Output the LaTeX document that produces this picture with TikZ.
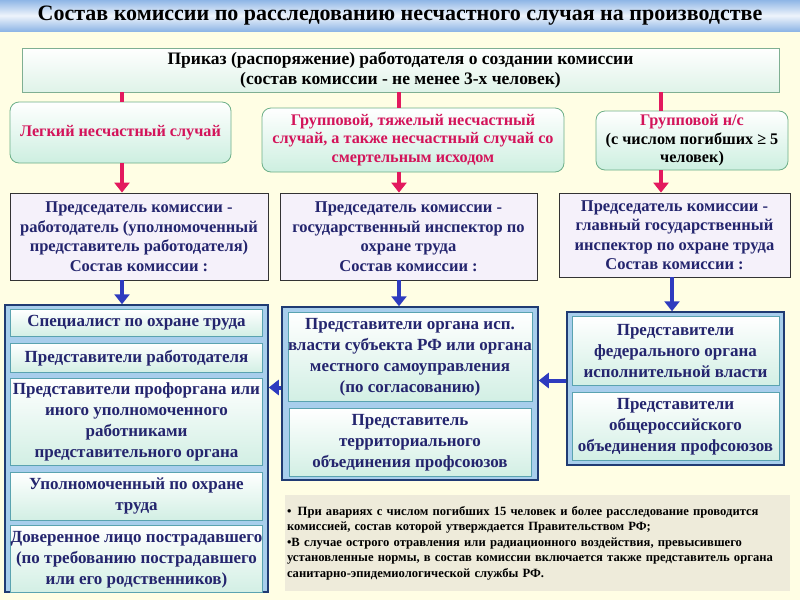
\documentclass[tikz,border=0pt]{standalone}
\usepackage{fontspec}
\setmainfont{Liberation Serif}
\usepackage{tikz}
\usetikzlibrary{arrows.meta, positioning}
\usepackage{xcolor}

\definecolor{cream}{HTML}{FFFEE4}
\definecolor{bandblue}{HTML}{8FB6E6}
\definecolor{ordermint}{HTML}{DFF3E8}
\definecolor{ordergreen}{HTML}{7FAF92}
\definecolor{casemint}{HTML}{CDEFE0}
\definecolor{casegreen}{HTML}{6DAF88}
\definecolor{crimson}{HTML}{D3145A}
\definecolor{navy}{HTML}{24256E}
\definecolor{chairfill}{HTML}{F5F1FA}
\definecolor{panelblue}{HTML}{A8CEEC}
\definecolor{paneledge}{HTML}{203B73}
\definecolor{memberedge}{HTML}{5AA3B0}
\definecolor{membermint}{HTML}{D2EFE4}
\definecolor{pinkred}{HTML}{E3195E}
\definecolor{arrowblue}{HTML}{2E3BBF}
\definecolor{notegray}{HTML}{EEEBDA}

\begin{document}
\begin{tikzpicture}[x=1pt, y=-1pt,
        titlebar/.style={rectangle, top color=bandblue, bottom color=bandblue, middle color=white!85!bandblue, minimum width=800pt, minimum height=31pt, inner sep=0pt, font=\fontsize{22}{24}\selectfont\bfseries},
        order/.style={rectangle, draw=ordergreen, thick, top color=white, bottom color=ordermint, minimum width=757pt, minimum height=44pt, inner sep=0pt, align=center, font=\fontsize{17.5}{20}\selectfont\bfseries},
        case/.style={rectangle, draw=casegreen, thick, rounded corners=9pt, top color=white, bottom color=casemint, inner sep=0pt, align=center, text=crimson, font=\fontsize{16.2}{18.5}\selectfont\bfseries},
        chair/.style={rectangle, draw=black!80, thick, fill=chairfill, inner sep=0pt, align=center, text=navy, font=\fontsize{16.5}{19.5}\selectfont\bfseries},
        panel/.style={rectangle, draw=paneledge, line width=1.5pt, fill=panelblue, inner sep=0pt},
        member/.style={rectangle, draw=memberedge, thick, top color=white, bottom color=membermint, inner sep=0pt, align=center, text=navy, font=\fontsize{17}{21}\selectfont\bfseries},
        note/.style={rectangle, fill=notegray, inner xsep=2pt, inner ysep=0pt, text width=501pt, minimum height=96pt, align=left, font=\fontsize{12.6}{15.5}\selectfont\bfseries},
        bar/.style={draw=pinkred, line width=4pt},
        pinkline/.style={draw=pinkred, line width=4pt, -{Triangle[length=10pt, width=15pt]}},
        blueline/.style={draw=arrowblue, line width=4pt, -{Triangle[length=10pt, width=15pt]}}
    ]
        \fill [cream] (0,0) rectangle (800,600);
        \useasboundingbox (0,0) rectangle (800,600);

        \node [titlebar] (title) at (400,15.5) {Состав комиссии по расследованию несчастного случая на производстве};
        \node [order] (order) at (400.5,70) {Приказ (распоряжение) работодателя о создании комиссии\\(состав комиссии - не менее 3-х человек)};

        % three kinds of accident
        \node [case, minimum width=221pt, minimum height=61pt] (caseA) at (120.5,132.5) {Легкий несчастный случай};
        \node [case, minimum width=302pt, minimum height=64pt] (caseB) at (413,140) {Групповой, тяжелый несчастный\\случай, а также несчастный случай со\\смертельным исходом};
        \node [case, minimum width=192pt, minimum height=59pt] (caseC) at (692,140.5) {Групповой н/с\\{\color{black}(с числом погибших ≥ 5}\\{\color{black}человек)}};

        % chairmen
        \node [chair, minimum width=258pt, minimum height=87pt] (chairA) at (139,236.5) {Председатель комиссии -\\работодатель (уполномоченный\\представитель работодателя)\\Состав комиссии :};
        \node [chair, minimum width=257pt, minimum height=87pt] (chairB) at (408.5,236.5) {Председатель комиссии -\\государственный инспектор по\\охране труда\\Состав комиссии :};
        \node [chair, minimum width=231pt, minimum height=84pt] (chairC) at (674.5,235) {Председатель комиссии -\\главный государственный\\инспектор по охране труда\\Состав комиссии :};

        % members
        \node [panel, minimum width=263pt, minimum height=287pt] (panelA) at (136.5,448.5) {};
        \node [member, minimum width=252pt, minimum height=27pt, below=5pt of panelA.north] (spec) {Специалист по охране труда};
        \node [member, minimum width=252pt, minimum height=29pt, below=6pt of spec] (empl) {Представители работодателя};
        \node [member, minimum width=252pt, minimum height=87pt, below=5pt of empl] (union) {Представители профоргана или\\иного уполномоченного\\работниками\\представительного органа};
        \node [member, minimum width=252pt, minimum height=48pt, below=6pt of union] (safety) {Уполномоченный по охране\\труда};
        \node [member, minimum width=252pt, minimum height=67pt, below=5pt of safety] (proxy) {Доверенное лицо пострадавшего\\(по требованию пострадавшего\\или его родственников)};

        \node [panel, minimum width=256pt, minimum height=173pt] (panelB) at (410,393.5) {};
        \node [member, minimum width=244pt, minimum height=89pt, below=6pt of panelB.north] (region) {Представители органа исп.\\власти субъекта РФ или органа\\местного самоуправления\\(по согласованию)};
        \node [member, minimum width=242pt, minimum height=68pt, below=6pt of region] (terr) {Представитель\\территориального\\объединения профсоюзов};

        \node [panel, minimum width=217pt, minimum height=153pt] (panelC) at (675.5,388.5) {};
        \node [member, minimum width=207pt, minimum height=69pt, below=5pt of panelC.north] (fed) {Представители\\федерального органа\\исполнительной власти};
        \node [member, minimum width=207pt, minimum height=68pt, below=6pt of fed] (allrus) {Представители\\общероссийского\\объединения профсоюзов};

        \node [note] (note) at (537.5,543) {•\, При авариях с числом погибших 15 человек и более расследование проводится\\комиссией, состав которой утверждается Правительством РФ;\\•В случае острого отравления или радиационного воздействия, превысившего\\установленные нормы, в состав комиссии включается также представитель органа\\санитарно-эпидемиологической службы РФ.};

        % column lines
        \coordinate (colA) at (122,0);
        \coordinate (colB) at (399,0);
        \coordinate (colC) at (661,0);
        \coordinate (colD) at (672,0);

        \path [bar] (order.south -| colA) -- (caseA.north -| colA);
        \path [bar] (order.south -| colB) -- (caseB.north -| colB);
        \path [bar] (order.south -| colC) -- (caseC.north -| colC);

        \path [pinkline] (caseA.south -| colA) -- (chairA.north -| colA);
        \path [pinkline] (caseB.south -| colB) -- (chairB.north -| colB);
        \path [pinkline] (caseC.south -| colC) -- (chairC.north -| colC);

        \path [blueline] (chairA.south -| colA) -- (panelA.north -| colA);
        \path [blueline] (chairB.south -| colB) -- (panelB.north -| colB);
        \path [blueline] (chairC.south -| colD) -- (panelC.north -| colD);

        \path [blueline] ([yshift=8pt]panelC.west) -- ([yshift=8pt]panelC.west -| panelB.east);
        \path [blueline] ([yshift=6pt]panelB.west) -- ([yshift=6pt]panelB.west -| panelA.east);
    \end{tikzpicture}
\end{document}
